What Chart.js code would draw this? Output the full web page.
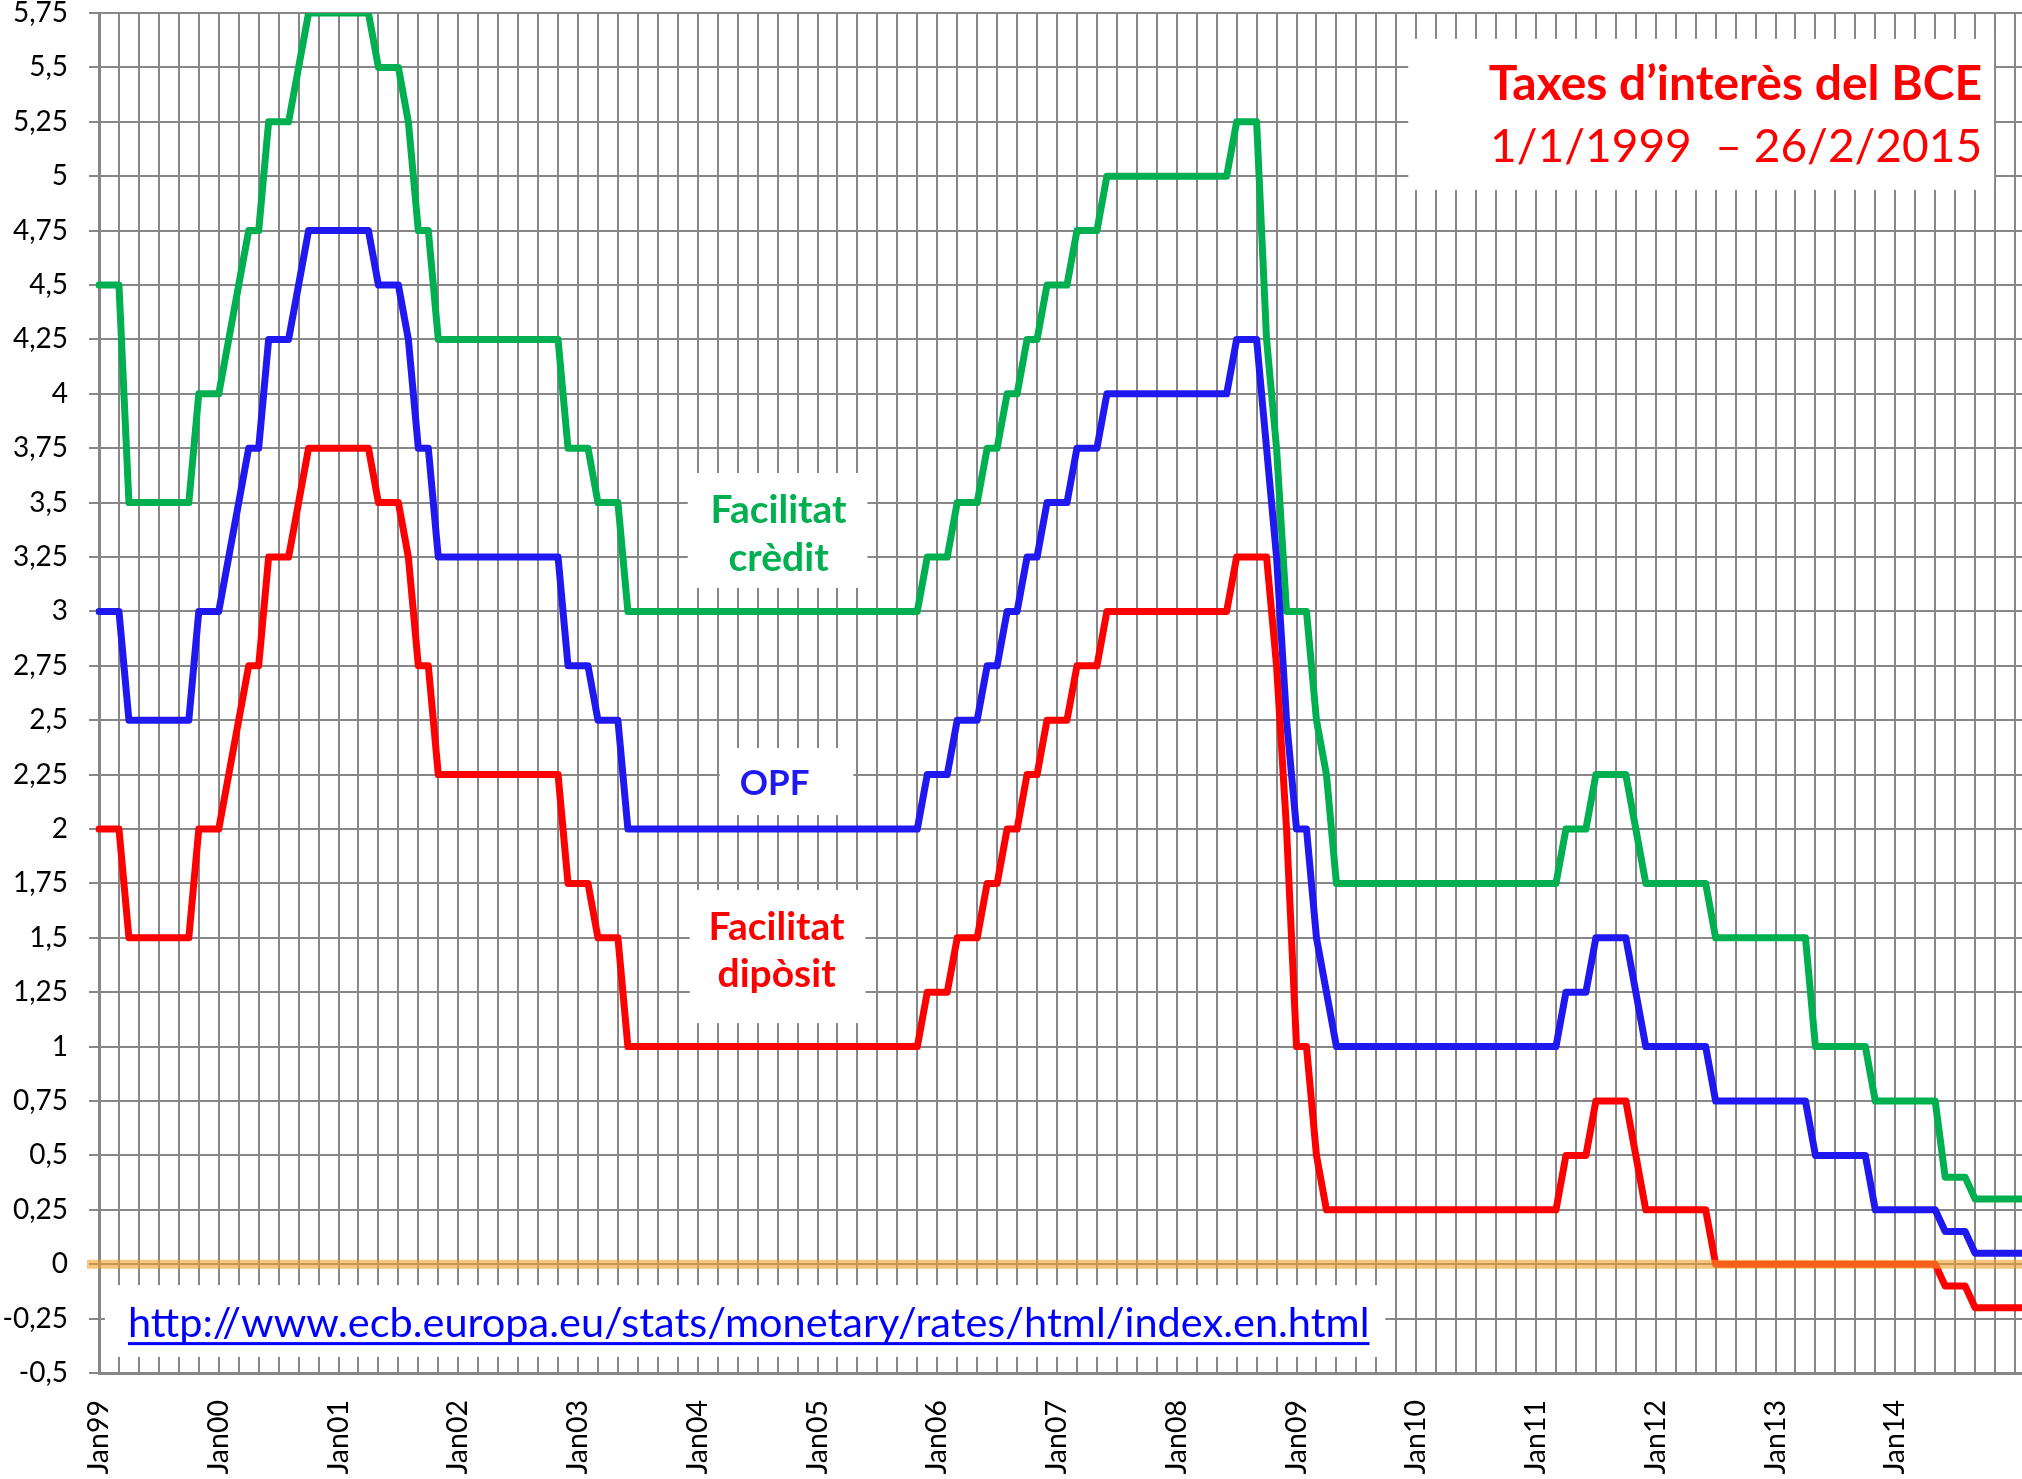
<!DOCTYPE html>
<html>
<head>
<meta charset="utf-8">
<script src="https://cdn.jsdelivr.net/npm/chart.js@4.4.1/dist/chart.umd.min.js"></script>
<style>
  html, body { margin:0; padding:0; overflow:hidden; background:#fff; width:2022px; height:1479px; }
  #wrap { position:absolute; left:0; top:0; width:2032px; height:1479px; }
</style>
</head>
<body>
<div id="wrap"><canvas id="c" width="2032" height="1479"></canvas></div>
<script>
// ---- Data: end-of-month ECB rates, Jan 1999 .. Feb 2015 ----
const monthNames = ['Jan','Feb','Mar','Apr','May','Jun','Jul','Aug','Sep','Oct','Nov','Dec'];
const categories = [];
for (let y = 1999; y <= 2015; y++) {
  for (let m = 0; m < 12; m++) {
    if (y === 2015 && m > 1) break;
    categories.push(monthNames[m] + String(y).slice(2));
  }
}
const yearTicks = ['Jan99','Jan00','Jan01','Jan02','Jan03','Jan04','Jan05','Jan06','Jan07',
                   'Jan08','Jan09','Jan10','Jan11','Jan12','Jan13','Jan14'];

const depositRate = [
  2,2,2,1.5,1.5,1.5,1.5,1.5,1.5,1.5,2,2,                         // 1999
  2,2.25,2.5,2.75,2.75,3.25,3.25,3.25,3.5,3.75,3.75,3.75,        // 2000
  3.75,3.75,3.75,3.75,3.5,3.5,3.5,3.25,2.75,2.75,2.25,2.25,      // 2001
  2.25,2.25,2.25,2.25,2.25,2.25,2.25,2.25,2.25,2.25,2.25,1.75,   // 2002
  1.75,1.75,1.5,1.5,1.5,1,1,1,1,1,1,1,                           // 2003
  1,1,1,1,1,1,1,1,1,1,1,1,                                       // 2004
  1,1,1,1,1,1,1,1,1,1,1,1.25,                                    // 2005
  1.25,1.25,1.5,1.5,1.5,1.75,1.75,2,2,2.25,2.25,2.5,             // 2006
  2.5,2.5,2.75,2.75,2.75,3,3,3,3,3,3,3,                          // 2007
  3,3,3,3,3,3,3.25,3.25,3.25,3.25,2.75,2,                        // 2008
  1,1,0.5,0.25,0.25,0.25,0.25,0.25,0.25,0.25,0.25,0.25,          // 2009
  0.25,0.25,0.25,0.25,0.25,0.25,0.25,0.25,0.25,0.25,0.25,0.25,   // 2010
  0.25,0.25,0.25,0.5,0.5,0.5,0.75,0.75,0.75,0.75,0.5,0.25,       // 2011
  0.25,0.25,0.25,0.25,0.25,0.25,0,0,0,0,0,0,                     // 2012
  0,0,0,0,0,0,0,0,0,0,0,0,                                       // 2013
  0,0,0,0,0,-0.1,-0.1,-0.1,-0.2,-0.2,-0.2,-0.2,                  // 2014
  -0.2,-0.2                                                      // 2015
];
const mroRate = [
  3,3,3,2.5,2.5,2.5,2.5,2.5,2.5,2.5,3,3,
  3,3.25,3.5,3.75,3.75,4.25,4.25,4.25,4.5,4.75,4.75,4.75,
  4.75,4.75,4.75,4.75,4.5,4.5,4.5,4.25,3.75,3.75,3.25,3.25,
  3.25,3.25,3.25,3.25,3.25,3.25,3.25,3.25,3.25,3.25,3.25,2.75,
  2.75,2.75,2.5,2.5,2.5,2,2,2,2,2,2,2,
  2,2,2,2,2,2,2,2,2,2,2,2,
  2,2,2,2,2,2,2,2,2,2,2,2.25,
  2.25,2.25,2.5,2.5,2.5,2.75,2.75,3,3,3.25,3.25,3.5,
  3.5,3.5,3.75,3.75,3.75,4,4,4,4,4,4,4,
  4,4,4,4,4,4,4.25,4.25,4.25,3.75,3.25,2.5,
  2,2,1.5,1.25,1,1,1,1,1,1,1,1,
  1,1,1,1,1,1,1,1,1,1,1,1,
  1,1,1,1.25,1.25,1.25,1.5,1.5,1.5,1.5,1.25,1,
  1,1,1,1,1,1,0.75,0.75,0.75,0.75,0.75,0.75,
  0.75,0.75,0.75,0.75,0.5,0.5,0.5,0.5,0.5,0.5,0.25,0.25,
  0.25,0.25,0.25,0.25,0.25,0.15,0.15,0.15,0.05,0.05,0.05,0.05,
  0.05,0.05
];
const creditRate = [
  4.5,4.5,4.5,3.5,3.5,3.5,3.5,3.5,3.5,3.5,4,4,
  4,4.25,4.5,4.75,4.75,5.25,5.25,5.25,5.5,5.75,5.75,5.75,
  5.75,5.75,5.75,5.75,5.5,5.5,5.5,5.25,4.75,4.75,4.25,4.25,
  4.25,4.25,4.25,4.25,4.25,4.25,4.25,4.25,4.25,4.25,4.25,3.75,
  3.75,3.75,3.5,3.5,3.5,3,3,3,3,3,3,3,
  3,3,3,3,3,3,3,3,3,3,3,3,
  3,3,3,3,3,3,3,3,3,3,3,3.25,
  3.25,3.25,3.5,3.5,3.5,3.75,3.75,4,4,4.25,4.25,4.5,
  4.5,4.5,4.75,4.75,4.75,5,5,5,5,5,5,5,
  5,5,5,5,5,5,5.25,5.25,5.25,4.25,3.75,3,
  3,3,2.5,2.25,1.75,1.75,1.75,1.75,1.75,1.75,1.75,1.75,
  1.75,1.75,1.75,1.75,1.75,1.75,1.75,1.75,1.75,1.75,1.75,1.75,
  1.75,1.75,1.75,2,2,2,2.25,2.25,2.25,2.25,2,1.75,
  1.75,1.75,1.75,1.75,1.75,1.75,1.5,1.5,1.5,1.5,1.5,1.5,
  1.5,1.5,1.5,1.5,1,1,1,1,1,1,0.75,0.75,
  0.75,0.75,0.75,0.75,0.75,0.4,0.4,0.4,0.3,0.3,0.3,0.3,
  0.3,0.3
];

// ---- Styles ----
const GRID = '#878787';
const RED = '#FF0000', BLUE = '#2018F0', GREEN = '#00B050';

// ---- Annotations (positioned in chart value space: month index, rate) ----
const boxes = [
  { x0: 59.0, x1: 77.0, y0: 3.636, y1: 3.108 },     // Facilitat crèdit
  { x0: 62.2, x1: 75.6, y0: 2.372, y1: 2.064 },     // OPF
  { x0: 59.2, x1: 76.8, y0: 1.72,  y1: 1.108 },     // Facilitat dipòsit
  { x0: 131.2, x1: 189.9, y0: 5.631, y1: 4.937 },   // title
  { x0: 0.6, x1: 128.9, y0: -0.096, y1: -0.426 }    // url
];
const texts = [
  { t: 'Facilitat', x: 68.1, y: 3.406, font: 'bold 39px Lato', color: GREEN, align: 'center' },
  { t: 'crèdit',    x: 68.1, y: 3.185, font: 'bold 39px Lato', color: GREEN, align: 'center' },
  { t: 'OPF',       x: 67.7, y: 2.156, font: 'bold 35px Lato', color: BLUE,  align: 'center' },
  { t: 'Facilitat', x: 67.9, y: 1.49,  font: 'bold 39px Lato', color: RED,   align: 'center' },
  { t: 'dipòsit',   x: 67.9, y: 1.272, font: 'bold 39px Lato', color: RED,   align: 'center' },
  { t: 'Taxes d’interès del BCE', x: 188.7, y: 5.35, font: 'bold 48px Lato', color: RED, align: 'right' },
  { t: '1/1/1999  – 26/2/2015',   x: 188.7, y: 5.065, font: '46px Lato', color: RED, align: 'right' },
  { t: 'http://www.ecb.europa.eu/stats/monetary/rates/html/index.en.html', x: 2.9, y: -0.335,
    font: '41.5px Lato', color: '#0000FF', align: 'left', underline: true }
];

const annotPlugin = {
  id: 'annot',
  beforeDatasetsDraw(chart) {
    const { ctx, scales: { x, y } } = chart;
    ctx.save();
    ctx.fillStyle = '#ffffff';
    boxes.forEach(b => {
      const px0 = x.getPixelForValue(b.x0), px1 = x.getPixelForValue(b.x1);
      const py0 = y.getPixelForValue(b.y0), py1 = y.getPixelForValue(b.y1);
      ctx.fillRect(px0, py0, px1 - px0, py1 - py0);
    });
    texts.forEach(o => {
      const px = x.getPixelForValue(o.x), py = y.getPixelForValue(o.y);
      ctx.font = o.font;
      ctx.fillStyle = o.color;
      ctx.textAlign = o.align;
      ctx.textBaseline = 'alphabetic';
      ctx.fillText(o.t, px, py);
      if (o.underline) {
        const w = ctx.measureText(o.t).width;
        ctx.fillRect(px, py + 5, w, 3);
      }
    });
    ctx.restore();
  },
  afterDatasetsDraw(chart) {
    const { ctx, scales: { y }, chartArea } = chart;
    const py = y.getPixelForValue(0);
    ctx.save();
    ctx.strokeStyle = 'rgba(240,160,45,0.6)';
    ctx.lineWidth = 9;
    ctx.beginPath();
    ctx.moveTo(chartArea.left - 12, py);
    ctx.lineTo(chart.width, py);
    ctx.stroke();
    ctx.restore();
  }
};

const lineStyle = { borderWidth: 7, pointRadius: 0, pointHoverRadius: 0, tension: 0, fill: false,
                    borderJoinStyle: 'round', borderCapStyle: 'round' };

new Chart(document.getElementById('c'), {
  type: 'line',
  data: {
    labels: categories,
    datasets: [
      Object.assign({ label: 'Facilitat dipòsit', data: depositRate, borderColor: RED }, lineStyle),
      Object.assign({ label: 'OPF', data: mroRate, borderColor: BLUE }, lineStyle),
      Object.assign({ label: 'Facilitat crèdit', data: creditRate, borderColor: GREEN }, lineStyle)
    ]
  },
  options: {
    responsive: false,
    animation: false,
    devicePixelRatio: 1,
    layout: { padding: { left: 0, right: 7, top: 13, bottom: 0 } },
    plugins: { legend: { display: false }, tooltip: { enabled: false } },
    scales: {
      x: {
        ticks: {
          autoSkip: false, maxRotation: 90, minRotation: 90, padding: 27, color: '#000',
          font: { family: 'Lato', size: 28.5 },
          callback: (v, i) => (i % 12 === 0 && yearTicks[i / 12]) ? yearTicks[i / 12] : ''
        },
        grid: { color: c => (c.index % 2 === 0 ? GRID : 'rgba(0,0,0,0)'), lineWidth: 2, drawTicks: false },
        border: { display: true, color: GRID, width: 3 },
        afterFit(s) { s.height = 106; s.paddingLeft = 0; s.paddingRight = 0; }
      },
      y: {
        min: -0.5, max: 5.75,
        ticks: {
          stepSize: 0.25, autoSkip: false, padding: 21, color: '#000',
          font: { family: 'Lato', size: 28 },
          callback: v => String(v).replace('.', ',')
        },
        grid: { color: GRID, lineWidth: 2, tickLength: 10 },
        border: { display: true, color: GRID, width: 3 },
        afterFit(s) { s.width = 99; s.paddingTop = 0; s.paddingBottom = 0; }
      }
    }
  },
  plugins: [annotPlugin]
});
</script>
</body>
</html>
